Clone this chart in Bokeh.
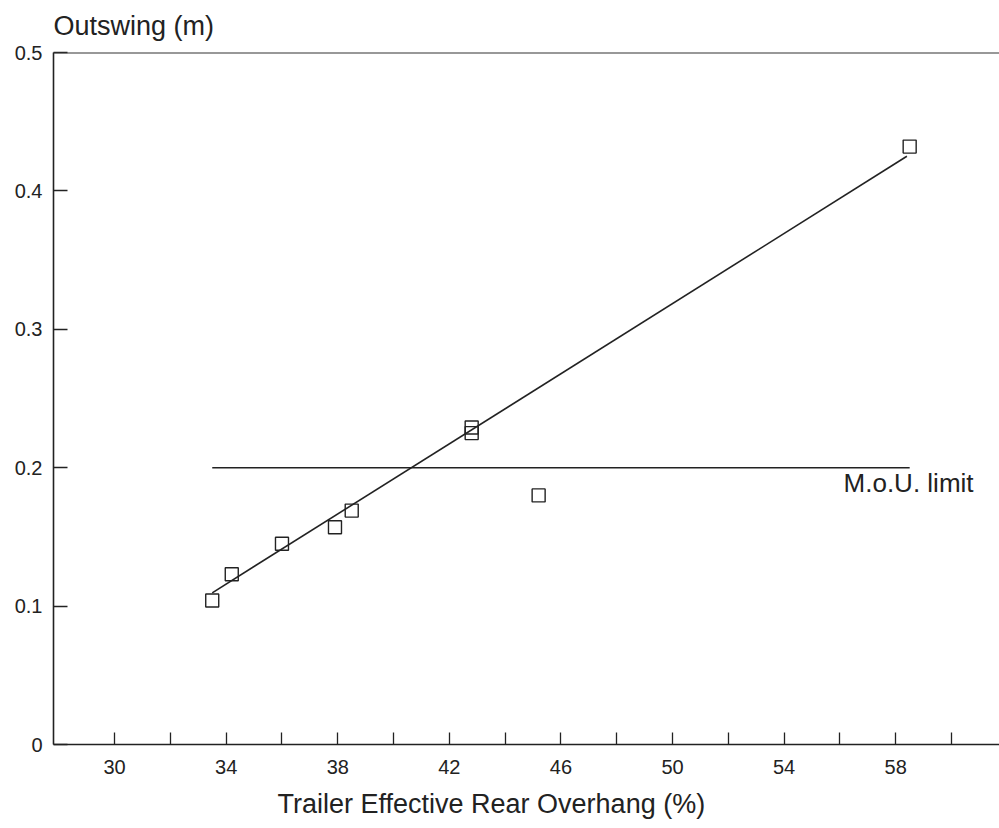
from bokeh.plotting import figure
from bokeh.models import Range1d, FixedTicker, Span, Label, ColumnDataSource, Title
from bokeh.embed import file_html
from bokeh.resources import INLINE

# ---- data ----
overhang_pct = [33.5, 34.2, 36.0, 37.9, 38.5, 42.8, 42.8, 45.2, 58.5]
outswing_m = [0.104, 0.123, 0.145, 0.157, 0.169, 0.229, 0.225, 0.180, 0.432]

fit_x = [33.5, 58.4]
fit_y = [0.1096, 0.425]

limit_x = [33.5, 58.5]
limit_y = [0.2, 0.2]
limit_label = "M.o.U. limit"

x_tick_values = list(range(30, 62, 2))
x_tick_labels = [str(v) if (v - 30) % 4 == 0 and v <= 58 else "" for v in x_tick_values]
y_tick_values = [0.0, 0.1, 0.2, 0.3, 0.4, 0.5]
y_tick_labels = ["0", "0.1", "0.2", "0.3", "0.4", "0.5"]

x_title = "Trailer Effective Rear Overhang (%)"
y_title = "Outswing (m)"

FONT = "Liberation Sans"
INK = "#222222"
X0, X1 = 27.81, 61.72
Y0, Y1 = 0.0, 0.5

p = figure(width=999, height=828, output_backend="svg", toolbar_location=None,
           x_range=Range1d(X0, X1), y_range=Range1d(Y0, Y1),
           min_border_left=53, min_border_right=0, min_border_top=52, min_border_bottom=83)
p.background_fill_color = "white"
p.border_fill_color = "white"
p.outline_line_color = None
p.grid.visible = False

# y-axis title shown at the top left
p.title.text = y_title
p.title.text_font = FONT
p.title.text_font_size = "27px"
p.title.text_font_style = "normal"
p.title.text_color = INK
p.title.align = "left"
p.title.vertical_align = "top"
p.title.offset = 0
p.title.standoff = 20

# x axis
xa = p.xaxis[0]
xa.ticker = FixedTicker(ticks=x_tick_values)
xa.major_label_overrides = {v: l for v, l in zip(x_tick_values, x_tick_labels)}
xa.major_label_text_font = FONT
xa.major_label_text_font_size = "20px"
xa.major_label_text_color = INK
xa.major_label_standoff = 15
xa.major_tick_in = 12

# x-axis title (left-shifted like the reference)
p.add_layout(Title(text=x_title, text_font=FONT, text_font_size="27px",
                   text_font_style="normal", text_color=INK, align="left",
                   offset=224, standoff=20, vertical_align="bottom"), "below")

# y axis
ya = p.yaxis[0]
ya.ticker = FixedTicker(ticks=y_tick_values)
ya.major_label_overrides = {v: l for v, l in zip(y_tick_values, y_tick_labels)}
ya.major_label_text_font = FONT
ya.major_label_text_font_size = "20px"
ya.major_label_text_color = INK
ya.major_label_standoff = 11
ya.major_tick_in = 14

for ax in (xa, ya):
    ax.major_tick_out = 0
    ax.minor_tick_line_color = None
    ax.axis_line_width = 1.6
    ax.axis_line_color = INK
    ax.major_tick_line_width = 1.3
    ax.major_tick_line_color = INK

# top border line of the frame
p.add_layout(Span(location=Y1, dimension="width", line_color="#333333", line_width=2))

# M.o.U. limit line
p.line(limit_x, limit_y, line_color=INK, line_width=1.6)
p.add_layout(Label(x=56.13, y=0.189, text=limit_label, text_font=FONT,
                   text_font_size="26px", text_color=INK,
                   text_baseline="middle", text_align="left"))

# regression line
p.line(fit_x, fit_y, line_color=INK, line_width=1.6)

# data points
src = ColumnDataSource(dict(x=overhang_pct, y=outswing_m))
p.scatter("x", "y", source=src, marker="square", size=13,
          fill_alpha=0, line_color=INK, line_width=1.4)

open("out.html", "w").write(file_html(p, INLINE))
